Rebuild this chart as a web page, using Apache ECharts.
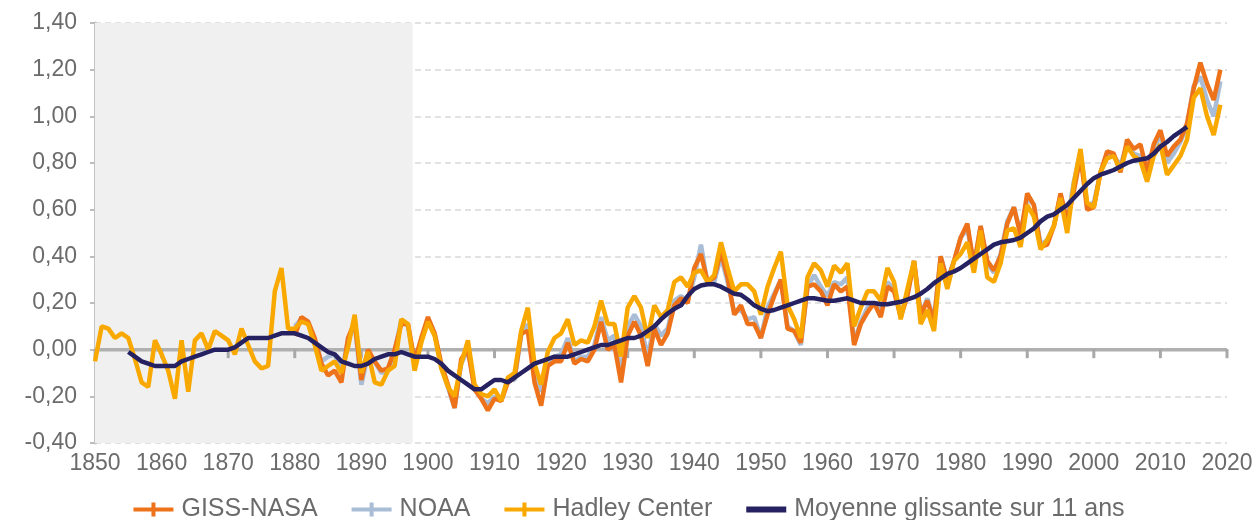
<!DOCTYPE html>
<html>
<head>
<meta charset="utf-8">
<script src="https://cdn.jsdelivr.net/npm/echarts@6/dist/echarts.min.js"></script>
<style>
html,body{margin:0;padding:0;background:#fff;}
#chart{width:1258px;height:520px;}
</style>
</head>
<body>
<div id="chart"></div>
<script>
// ---- data ----
const seriesNames = ['GISS-NASA', 'NOAA', 'Hadley Center', 'Moyenne glissante sur 11 ans'];
const yTicks = [-0.4, -0.2, 0, 0.2, 0.4, 0.6, 0.8, 1.0, 1.2, 1.4];
const xTicks = [1850, 1860, 1870, 1880, 1890, 1900, 1910, 1920, 1930, 1940, 1950, 1960, 1970, 1980, 1990, 2000, 2010, 2020];
const shadedYears = [1850, 1897.7];

const hadleyStart = 1850;
const hadley = [
 -0.05,0.10,0.09,0.05,0.07,0.05,-0.04,-0.14,-0.16,0.04,
 -0.02,-0.09,-0.21,0.04,-0.18,0.04,0.07,0.00,0.08,0.06,
 0.04,-0.02,0.09,0.02,-0.05,-0.08,-0.07,0.25,0.35,0.09,
 0.09,0.12,0.11,0.02,-0.09,-0.07,-0.05,-0.10,0.01,0.15,
 -0.10,-0.01,-0.14,-0.15,-0.09,-0.07,0.13,0.11,-0.09,0.03,
 0.12,0.06,-0.08,-0.16,-0.20,-0.06,0.04,-0.15,-0.19,-0.20,
 -0.17,-0.22,-0.12,-0.10,0.08,0.18,-0.06,-0.15,-0.01,0.05,
 0.07,0.13,0.02,0.04,0.03,0.10,0.21,0.11,0.11,-0.03,
 0.18,0.23,0.18,0.05,0.19,0.14,0.17,0.29,0.31,0.27,
 0.33,0.34,0.29,0.32,0.46,0.35,0.25,0.28,0.28,0.25,
 0.15,0.27,0.35,0.42,0.19,0.13,0.05,0.31,0.37,0.34,
 0.27,0.36,0.33,0.37,0.10,0.18,0.25,0.25,0.21,0.35,
 0.29,0.13,0.26,0.38,0.11,0.17,0.08,0.37,0.26,0.38,
 0.41,0.46,0.33,0.51,0.31,0.29,0.37,0.51,0.52,0.44,
 0.62,0.57,0.43,0.47,0.53,0.65,0.50,0.71,0.86,0.63,
 0.61,0.76,0.82,0.83,0.77,0.87,0.83,0.81,0.72,0.83,
 0.88,0.75,0.79,0.83,0.90,1.08,1.12,1.00,0.92,1.05
];

const gissStart = 1880;
const giss = [
 0.06,0.14,0.12,0.05,-0.06,-0.11,-0.09,-0.14,0.05,0.12,
 -0.13,0.00,-0.05,-0.09,-0.08,0.00,0.11,0.11,-0.05,0.05,
 0.14,0.07,-0.06,-0.15,-0.25,-0.04,0.00,-0.17,-0.21,-0.26,
 -0.21,-0.22,-0.14,-0.12,0.07,0.08,-0.14,-0.24,-0.07,-0.05,
 -0.05,0.03,-0.06,-0.04,-0.05,0.00,0.12,0.00,0.02,-0.14,
 0.06,0.12,0.06,-0.07,0.09,0.02,0.07,0.19,0.22,0.20,
 0.35,0.41,0.29,0.31,0.42,0.31,0.15,0.19,0.11,0.11,
 0.05,0.15,0.23,0.30,0.09,0.08,0.03,0.27,0.28,0.25,
 0.19,0.28,0.25,0.27,0.02,0.11,0.16,0.20,0.14,0.27,
 0.25,0.14,0.23,0.38,0.15,0.21,0.12,0.40,0.29,0.38,
 0.48,0.54,0.36,0.53,0.38,0.34,0.40,0.54,0.61,0.49,
 0.67,0.62,0.44,0.45,0.53,0.67,0.55,0.68,0.83,0.60,
 0.61,0.76,0.85,0.84,0.76,0.90,0.86,0.88,0.76,0.88,
 0.94,0.83,0.87,0.90,0.97,1.12,1.23,1.14,1.07,1.20
];

const noaaStart = 1880;
const noaa = [
 0.10,0.13,0.12,0.04,-0.05,-0.03,-0.02,-0.10,0.04,0.11,
 -0.15,-0.02,-0.05,-0.10,-0.09,-0.01,0.13,0.10,-0.06,0.04,
 0.13,0.07,-0.07,-0.16,-0.25,-0.06,0.00,-0.16,-0.21,-0.23,
 -0.20,-0.22,-0.13,-0.13,0.06,0.11,-0.11,-0.18,-0.05,-0.03,
 -0.02,0.05,-0.05,-0.03,-0.03,0.02,0.14,0.04,0.06,-0.10,
 0.10,0.15,0.10,-0.03,0.11,0.06,0.09,0.21,0.23,0.21,
 0.31,0.45,0.28,0.29,0.40,0.29,0.16,0.17,0.13,0.14,
 0.05,0.18,0.24,0.30,0.10,0.08,0.02,0.27,0.32,0.27,
 0.23,0.29,0.28,0.31,0.03,0.12,0.18,0.20,0.16,0.29,
 0.26,0.15,0.24,0.38,0.15,0.22,0.13,0.40,0.30,0.38,
 0.48,0.52,0.36,0.53,0.37,0.33,0.41,0.55,0.61,0.50,
 0.65,0.62,0.45,0.47,0.53,0.66,0.55,0.72,0.85,0.62,
 0.63,0.76,0.83,0.83,0.79,0.88,0.84,0.83,0.76,0.86,
 0.92,0.80,0.84,0.89,0.96,1.13,1.17,1.07,1.00,1.15
];

const avgStart = 1855;
const movingAvg = [
 -0.01,-0.03,-0.05,-0.06,-0.07,-0.07,-0.07,-0.07,-0.05,-0.04,
 -0.03,-0.02,-0.01,0.00,0.00,0.00,0.01,0.03,0.05,0.05,
 0.05,0.05,0.06,0.07,0.07,0.07,0.06,0.05,0.03,0.01,
 -0.01,-0.02,-0.05,-0.06,-0.07,-0.07,-0.06,-0.04,-0.03,-0.02,
 -0.02,-0.01,-0.02,-0.03,-0.03,-0.03,-0.04,-0.06,-0.09,-0.11,
 -0.13,-0.15,-0.17,-0.17,-0.15,-0.13,-0.13,-0.14,-0.12,-0.10,
 -0.08,-0.06,-0.05,-0.04,-0.03,-0.03,-0.03,-0.02,-0.01,0.00,
 0.01,0.02,0.02,0.03,0.04,0.05,0.05,0.06,0.08,0.10,
 0.13,0.155,0.175,0.19,0.23,0.26,0.275,0.28,0.28,0.27,
 0.255,0.24,0.235,0.215,0.19,0.175,0.165,0.17,0.18,0.19,
 0.20,0.21,0.22,0.22,0.215,0.21,0.21,0.215,0.22,0.21,
 0.20,0.20,0.20,0.195,0.195,0.20,0.205,0.215,0.225,0.24,
 0.26,0.285,0.305,0.325,0.335,0.35,0.37,0.39,0.41,0.43,
 0.45,0.46,0.465,0.47,0.48,0.50,0.52,0.55,0.57,0.58,
 0.60,0.62,0.65,0.68,0.71,0.735,0.75,0.76,0.77,0.785,
 0.80,0.81,0.815,0.82,0.84,0.87,0.89,0.915,0.935,0.955
];

// ---- build ----
function pairs(start, vals){ return vals.map((v,i)=>[start+i, v]); }
const colors = {giss:'#EE7219', noaa:'#A9BDD6', hadley:'#F9A800', avg:'#262262'};
const fmt = v => (Math.round(v*100)/100).toFixed(2).replace('.', ',');
const FONT = 'Liberation Sans, Arial, sans-serif';
const xMin = xTicks[0], xMax = xTicks[xTicks.length-1];
const yMin = yTicks[0], yMax = yTicks[yTicks.length-1];
const plusIcon = 'path://M0,5H40V9H0Z M18,0H22V14H18Z';

const chart = echarts.init(document.getElementById('chart'));
chart.setOption({
  animation:false,
  backgroundColor:'#ffffff',
  grid:{left:95, right:31, top:23, bottom:77, containLabel:false},
  legend:{
    top:492, left:'center', itemGap:34, itemWidth:40, itemHeight:14,
    textStyle:{fontFamily:FONT, fontSize:25, color:'#6b6b6b', padding:[0,0,0,3]},
    data:[
      {name:seriesNames[0], icon:plusIcon},
      {name:seriesNames[1], icon:plusIcon},
      {name:seriesNames[2], icon:plusIcon},
      {name:seriesNames[3], icon:'path://M0,4H40V10H0Z'}
    ]
  },
  xAxis:{
    type:'value', min:xMin, max:xMax, interval:10,
    axisLine:{show:false, onZero:false}, axisTick:{show:false}, splitLine:{show:false},
    axisLabel:{fontFamily:FONT, fontSize:23, color:'#6b6b6b', margin:9, showMinLabel:true, showMaxLabel:true,
      formatter: v => String(v)}
  },
  yAxis:{
    type:'value', min:yMin, max:yMax, interval:0.2,
    axisLine:{show:true, onZero:false, lineStyle:{color:'#c4c4c4', width:3}},
    axisTick:{show:true, length:5, lineStyle:{color:'#bdbdbd', width:2}},
    splitLine:{show:true, lineStyle:{color:'#e2e2e2', width:2, type:[6,4]}},
    axisLabel:{fontFamily:FONT, fontSize:23, color:'#6b6b6b', margin:18, formatter:fmt}
  },
  series:[
    {
      name:'shade', type:'line', data:[], silent:true, z:0,
      markArea:{silent:true, itemStyle:{color:'#f0f0f0'}, data:[[{xAxis:shadedYears[0]},{xAxis:shadedYears[1]}]]}
    },
    {
      name:'zeroAxis', type:'line', silent:true, z:1,
      data: xTicks.map(y => [y, 0]),
      showSymbol:true, symbol:'rect', symbolSize:[3,9], symbolOffset:[0,4],
      itemStyle:{color:'#a8a8a8'},
      lineStyle:{color:'#b0b0b0', width:3.5, type:'solid'}
    },
    {
      name:seriesNames[1], type:'line', data:pairs(noaaStart, noaa),
      showSymbol:false, symbol:'none', color:colors.noaa,
      lineStyle:{width:4.5, color:colors.noaa}, z:2
    },
    {
      name:seriesNames[0], type:'line', data:pairs(gissStart, giss),
      showSymbol:false, symbol:'none', color:colors.giss,
      lineStyle:{width:4.5, color:colors.giss}, z:3
    },
    {
      name:seriesNames[2], type:'line', data:pairs(hadleyStart, hadley),
      showSymbol:false, symbol:'none', color:colors.hadley,
      lineStyle:{width:4.5, color:colors.hadley}, z:4
    },
    {
      name:seriesNames[3], type:'line', data:pairs(avgStart, movingAvg),
      showSymbol:false, symbol:'none', color:colors.avg,
      lineStyle:{width:4.5, color:colors.avg}, z:5
    }
  ]
});
</script>
</body>
</html>
